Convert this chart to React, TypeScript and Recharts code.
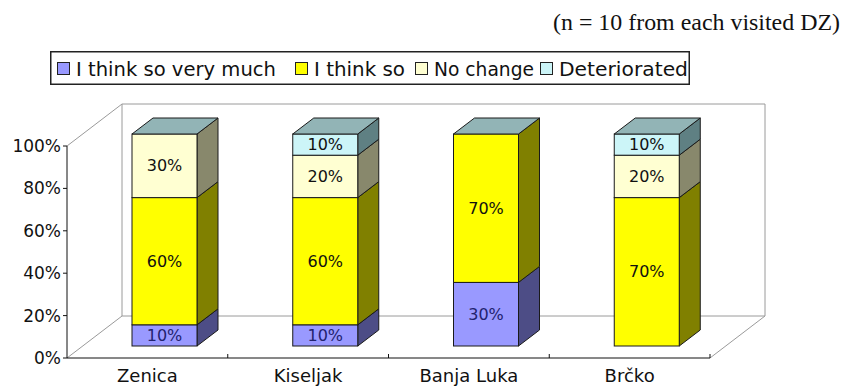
import React from 'react';
import { BarChart, Bar, XAxis, YAxis, Legend, LabelList } from 'recharts';

// ---- data -------------------------------------------------------------
const CATEGORIES = ['Zenica', 'Kiseljak', 'Banja Luka', 'Brčko'];
const SERIES_NAMES = ['I think so very much', 'I think so', 'No change', 'Deteriorated'];
const VERY_MUCH = [10, 10, 30, 0];
const THINK_SO = [60, 60, 70, 70];
const NO_CHANGE = [30, 20, 0, 20];
const DETERIORATED = [0, 10, 0, 10];
const Y_TICKS = [0, 20, 40, 60, 80, 100];
const NOTE = '(n = 10 from each visited DZ)';

const KEYS = ['veryMuch', 'thinkSo', 'noChange', 'deteriorated'];
const data = CATEGORIES.map((name, i) => ({
  name,
  veryMuch: VERY_MUCH[i],
  thinkSo: THINK_SO[i],
  noChange: NO_CHANGE[i],
  deteriorated: DETERIORATED[i],
}));

// ---- look -------------------------------------------------------------
const FACE = [
  { front: '#9999FF', side: '#4D4D86', top: '#7373BF', label: '#22226E' },
  { front: '#FFFF00', side: '#808000', top: '#BFBF00', label: '#111111' },
  { front: '#FFFFD2', side: '#88886C', top: '#BFBF9E', label: '#111111' },
  { front: '#CCF5F8', side: '#5F8083', top: '#92B4B6', label: '#111111' },
];
const EDGE = '#1a1a1a';
const WALL_LINE = '#9a9a9a';
const FONT = '"DejaVu Sans", sans-serif';

const W = 844;
const H = 387;
// front plane of the 3-D box
const PLOT = { left: 67, top: 146, right: 710, bottom: 358 };
// receding depth of the box (floor / back wall)
const WALL = { dx: 55, dy: -42 };
// bars stand a little way back inside the box and have their own depth
const BAR_SHIFT = { dx: 17, dy: -12 };
const BAR_DEPTH = { dx: 21, dy: -16 };

const LEGEND_BOX = { left: 50, top: 51, width: 640, height: 34 };
const LEGEND_MARK_X = [7, 245, 365, 490];
const LEGEND_TEXT_LEN = [200, 91, 100, 129];

// one stacked segment drawn as a prism: front, right side and (for the last series) the lid
const makePrism = (si: number) => (props: any) => {
  const { x, y, width, height } = props;
  const c = FACE[si];
  const fx = x + BAR_SHIFT.dx;
  const fy = y + BAR_SHIFT.dy;
  const h = Math.max(0, height || 0);
  const { dx, dy } = BAR_DEPTH;
  const isTop = si === KEYS.length - 1;
  return (
    <g>
      {h > 0 && (
        <polygon
          points={`${fx + width},${fy + h} ${fx + width + dx},${fy + h + dy} ${fx + width + dx},${fy + dy} ${fx + width},${fy}`}
          fill={c.side}
          stroke={EDGE}
          strokeWidth={1}
          strokeLinejoin="round"
        />
      )}
      {h > 0 && (
        <rect x={fx} y={fy} width={width} height={h} fill={c.front} stroke={EDGE} strokeWidth={1} />
      )}
      {isTop && (
        <polygon
          points={`${fx},${fy} ${fx + dx},${fy + dy} ${fx + width + dx},${fy + dy} ${fx + width},${fy}`}
          fill={c.top}
          stroke={EDGE}
          strokeWidth={1}
          strokeLinejoin="round"
        />
      )}
    </g>
  );
};

const makeLabel = (si: number) => (props: any) => {
  const { x, y, width, height, value } = props;
  if (!value) return null;
  return (
    <text
      x={Number(x) + BAR_SHIFT.dx + Number(width) / 2}
      y={Number(y) + BAR_SHIFT.dy + Number(height) / 2}
      textAnchor="middle"
      dominantBaseline="central"
      fontSize={16}
      fontFamily={FONT}
      fill={FACE[si].label}
    >
      {`${value}%`}
    </text>
  );
};

const renderLegend = () => (
  <svg width={LEGEND_BOX.width} height={LEGEND_BOX.height} style={{ display: 'block' }}>
    <rect
      x={0.75}
      y={0.75}
      width={LEGEND_BOX.width - 1.5}
      height={LEGEND_BOX.height - 1.5}
      fill="#fff"
      stroke="#222"
      strokeWidth={1.5}
    />
    {SERIES_NAMES.map((name, i) => (
      <g key={name}>
        <rect x={LEGEND_MARK_X[i] + 0.5} y={11.5} width={12} height={12} fill={FACE[i].front} stroke="#222" />
        <text
          x={LEGEND_MARK_X[i] + 19}
          y={25}
          fontSize={19}
          fontFamily={FONT}
          fill="#111"
          textLength={LEGEND_TEXT_LEN[i]}
          lengthAdjust="spacingAndGlyphs"
        >
          {name}
        </text>
      </g>
    ))}
  </svg>
);

// floor, back wall outline and the category dividers on the front edge
const Frame = () => {
  const bx = PLOT.left + WALL.dx;
  const bTop = PLOT.top + WALL.dy;
  const bBottom = PLOT.bottom + WALL.dy;
  const bRight = PLOT.right + WALL.dx;
  const band = (PLOT.right - PLOT.left) / CATEGORIES.length;
  return (
    <svg width={W} height={H} style={{ position: 'absolute', left: 0, top: 0 }}>
      <text
        x={553}
        y={30}
        fontSize={23}
        fontFamily='"Liberation Serif", "Times New Roman", serif'
        fill="#111"
        textLength={287}
        lengthAdjust="spacingAndGlyphs"
      >
        {NOTE}
      </text>
      <g stroke={WALL_LINE} strokeWidth={1} fill="none">
        <line x1={PLOT.left} y1={PLOT.top} x2={bx} y2={bTop} />
        <line x1={PLOT.left} y1={PLOT.bottom} x2={bx} y2={bBottom} />
        <line x1={PLOT.right} y1={PLOT.bottom} x2={bRight} y2={bBottom} />
        <line x1={bx} y1={bTop} x2={bx} y2={bBottom} />
        <line x1={bx} y1={bTop} x2={bRight} y2={bTop} />
        <line x1={bRight} y1={bTop} x2={bRight} y2={bBottom} />
        <line x1={bx} y1={bBottom} x2={bRight} y2={bBottom} />
      </g>
      <g stroke="#111" strokeWidth={1}>
        {CATEGORIES.map((c, i) => (
          <line
            key={c}
            x1={PLOT.left + band * (i + 1)}
            y1={PLOT.bottom - 4}
            x2={PLOT.left + band * (i + 1)}
            y2={PLOT.bottom}
          />
        ))}
      </g>
    </svg>
  );
};

export default function App() {
  return (
    <div style={{ position: 'absolute', left: 0, top: 0, width: W, height: H, background: '#fff' }}>
      <Frame />
      <div style={{ position: 'absolute', left: 0, top: 0 }}>
        <BarChart
          width={W}
          height={H}
          data={data}
          margin={{ top: PLOT.top, right: W - PLOT.right, bottom: 0, left: 0 }}
          barSize={65}
        >
          <XAxis
            dataKey="name"
            height={H - PLOT.bottom}
            tickLine={false}
            tickSize={0}
            tickMargin={11}
            axisLine={{ stroke: '#111' }}
            tick={{ fill: '#111', fontSize: 18, fontFamily: FONT }}
            interval={0}
          />
          <YAxis
            width={PLOT.left}
            domain={[0, 100]}
            ticks={Y_TICKS}
            interval={0}
            tickFormatter={(v: number) => `${v}%`}
            tickSize={4}
            tickMargin={2}
            axisLine={{ stroke: '#111' }}
            tickLine={{ stroke: '#111' }}
            tick={{ fill: '#111', fontSize: 17, fontFamily: FONT }}
          />
          <Legend
            layout="horizontal"
            verticalAlign="middle"
            align="center"
            content={renderLegend}
            wrapperStyle={{
              position: 'absolute',
              left: LEGEND_BOX.left,
              top: LEGEND_BOX.top,
              width: LEGEND_BOX.width,
              height: LEGEND_BOX.height,
            }}
          />
          {KEYS.map((k, i) => (
            <Bar
              key={k}
              dataKey={k}
              name={SERIES_NAMES[i]}
              stackId="stack"
              fill={FACE[i].front}
              shape={makePrism(i)}
              isAnimationActive={false}
            >
              <LabelList dataKey={k} content={makeLabel(i)} />
            </Bar>
          ))}
        </BarChart>
      </div>
    </div>
  );
}
